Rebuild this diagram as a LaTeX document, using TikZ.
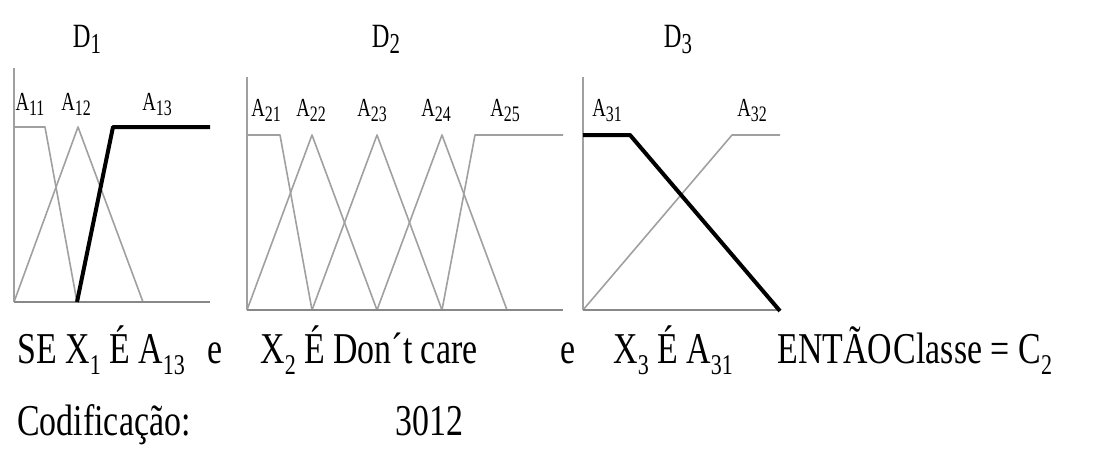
\documentclass[tikz,border=0pt]{standalone}
\usepackage{fontspec}
\setmainfont{Liberation Serif}[FakeStretch=0.77]
\newfontfamily\lblfont{Liberation Serif}[FakeStretch=0.72]
\newcommand{\sbx}[1]{\raisebox{-0.25em}{\fontsize{0.65em}{0.7em}\selectfont #1}}
\newcommand{\lsb}[1]{\raisebox{-0.2em}{\fontsize{0.85em}{0.9em}\selectfont #1}}
\definecolor{thin}{HTML}{A0A0A0}
\definecolor{axisc}{HTML}{888888}
\begin{document}
\begin{tikzpicture}[x=0.5pt,y=-0.5pt,
  mf/.style={draw=thin,line width=0.8pt,line join=round},
  hot/.style={draw=black,line width=2pt,line join=round},
  yax/.style={draw=thin,line width=0.9pt},
  base/.style={draw=axisc,line width=1pt},
  alab/.style={font=\lblfont\fontsize{13}{14}\selectfont,inner sep=0pt,anchor=base},
  dlab/.style={font=\lblfont\fontsize{17}{18}\selectfont,inner sep=0pt,anchor=base},
  txt/.style={font=\fontsize{22}{24}\selectfont,inner sep=0pt,anchor=base west}]
\useasboundingbox (0,0) rectangle (1104,450);
% ---------- Panel 1 ----------
\draw[yax] (14,68) -- (14,302);
\draw[mf] (14,127) -- (45,127) -- (77,302);
\draw[mf] (14,302) -- (78,127) -- (143,302);
\draw[base] (14,302) -- (210,302);
\draw[hot] (77,302) -- (113,127) -- (210,127);
\node[alab] (a11) at (30,110) {A\lsb{11}};
\node[alab] (a12) at (76,110) {A\lsb{12}};
\node[alab] (a13) at (157,110) {A\lsb{13}};
\node[dlab] (d1) at (87,47) {D\lsb{1}};
% ---------- Panel 2 ----------
\draw[yax] (247,77) -- (247,310);
\draw[mf] (247,135) -- (280,135) -- (312,310);
\draw[mf] (247,310) -- (312,135) -- (377,310);
\draw[mf] (312,310) -- (377,135) -- (442,310);
\draw[mf] (377,310) -- (442,135) -- (507,310);
\draw[mf] (442,310) -- (475,135) -- (563,135);
\draw[base] (247,310) -- (563,310);
\node[alab] (a21) at (266,116) {A\lsb{21}};
\node[alab] (a22) at (311,116) {A\lsb{22}};
\node[alab] (a23) at (372,116) {A\lsb{23}};
\node[alab] (a24) at (436,116) {A\lsb{24}};
\node[alab] (a25) at (505,116) {A\lsb{25}};
\node[dlab] (d2) at (386,47) {D\lsb{2}};
% ---------- Panel 3 ----------
\draw[yax] (583,77) -- (583,310);
\draw[mf] (583,310) -- (732,135) -- (780,135);
\draw[base] (583,310) -- (780,310);
\draw[hot] (583,135) -- (630,135) -- (780,311);
\node[alab] (a31) at (607,116) {A\lsb{31}};
\node[alab] (a32) at (752,116) {A\lsb{32}};
\node[dlab] (d3) at (678,47) {D\lsb{3}};
% ---------- Rule text ----------
\node[txt] (t1) at (17,363) {SE X\sbx{1} É A\sbx{13}};
\node[txt] (t2) at (207,363) {e};
\node[txt] (t3) at (260,363) {X\sbx{2} É Don´t care};
\node[txt] (t4) at (560,363) {e};
\node[txt] (t5) at (613,363) {X\sbx{3} É A\sbx{31}};
\node[txt] (t6) at (777,363) {ENTÃO\hspace{0.04em}Classe = C\sbx{2}};
\node[txt] (c1) at (17,435) {Codificação:};
\node[txt] (c2) at (395,435) {3012};
\end{tikzpicture}
\end{document}
